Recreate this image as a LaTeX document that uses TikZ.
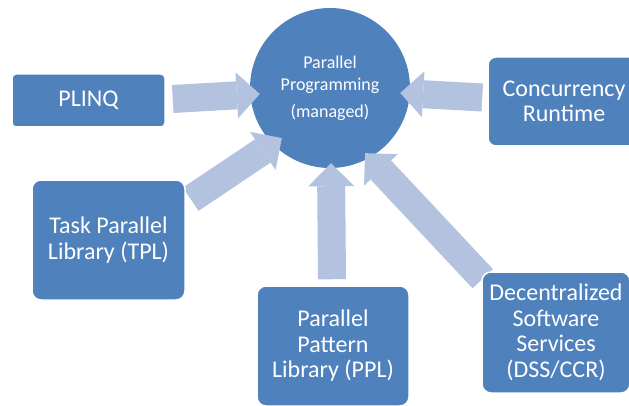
\documentclass[tikz,border=0pt]{standalone}
\usepackage{fontspec}
\setmainfont{Carlito}
\usepackage{xcolor}
\usepackage{tikz}
\usetikzlibrary{arrows.meta, positioning, backgrounds}
\definecolor{boxblue}{RGB}{79,129,189}
\definecolor{arrowblue}{RGB}{179,194,222}

\begin{document}
\begin{tikzpicture}[
    x=1pt, y=1pt,
    box/.style={rectangle, rounded corners=9pt, fill=boxblue, draw=white, line width=1.5pt, text=white, align=center, inner sep=2pt, font=\fontsize{24}{25.5}\selectfont},
    hubnode/.style={circle, fill=boxblue, minimum size=160pt, inner sep=0pt, text=white, align=center, font=\fontsize{18}{22}\selectfont},
    arr/.style={line width=28pt, arrowblue, -{Triangle[width=46pt, length=23pt, line width=0pt]}}
]
\useasboundingbox (0,0) rectangle (629,405);
\clip (0,0) rectangle (629,405);

\node[box, rounded corners=4pt, minimum width=153pt, minimum height=53pt] (plinq) at (88.5,304.5) {PLINQ};
\node[box, rounded corners=8pt, minimum width=152pt, minimum height=89pt] (crt) at (564,303.5) {Concurrency\\Runtime};
\node[box, minimum width=153pt, minimum height=120pt] (tpl) at (108.5,165) {Task Parallel\\Library (TPL)};
\node[box, minimum width=152pt, minimum height=120pt] (ppl) at (333,59) {Parallel\\Pattern\\Library (PPL)};
\node[box, minimum width=148pt, minimum height=121pt] (dss) at (556,72.5) {Decentralized\\Software\\Services\\(DSS/CCR)};

\begin{scope}[on background layer]
\node[hubnode] (hub) at (330,317) {Parallel\\Programming\\[5pt](managed)};

\draw[arr] ([xshift=7pt, yshift=1.5pt]plinq.east) -- ([xshift=10pt, yshift=-6pt]hub.west);
\draw[arr] ([xshift=-5pt, yshift=4pt]crt.west) -- ([xshift=-10pt, yshift=-5pt]hub.east);
\draw[arr] ([xshift=5pt, yshift=-20pt]tpl.north east) -- ([xshift=8.6pt, yshift=6.6pt]hub.south west);
\draw[arr] ([xshift=-1pt, yshift=6pt]ppl.north) -- ([xshift=1pt, yshift=5pt]hub.south);
\draw[arr] ([xshift=1.5pt, yshift=-7.5pt]dss.north west) -- ([xshift=-5pt, yshift=4.3pt]hub.-60);
\end{scope}

\end{tikzpicture}
\end{document}
